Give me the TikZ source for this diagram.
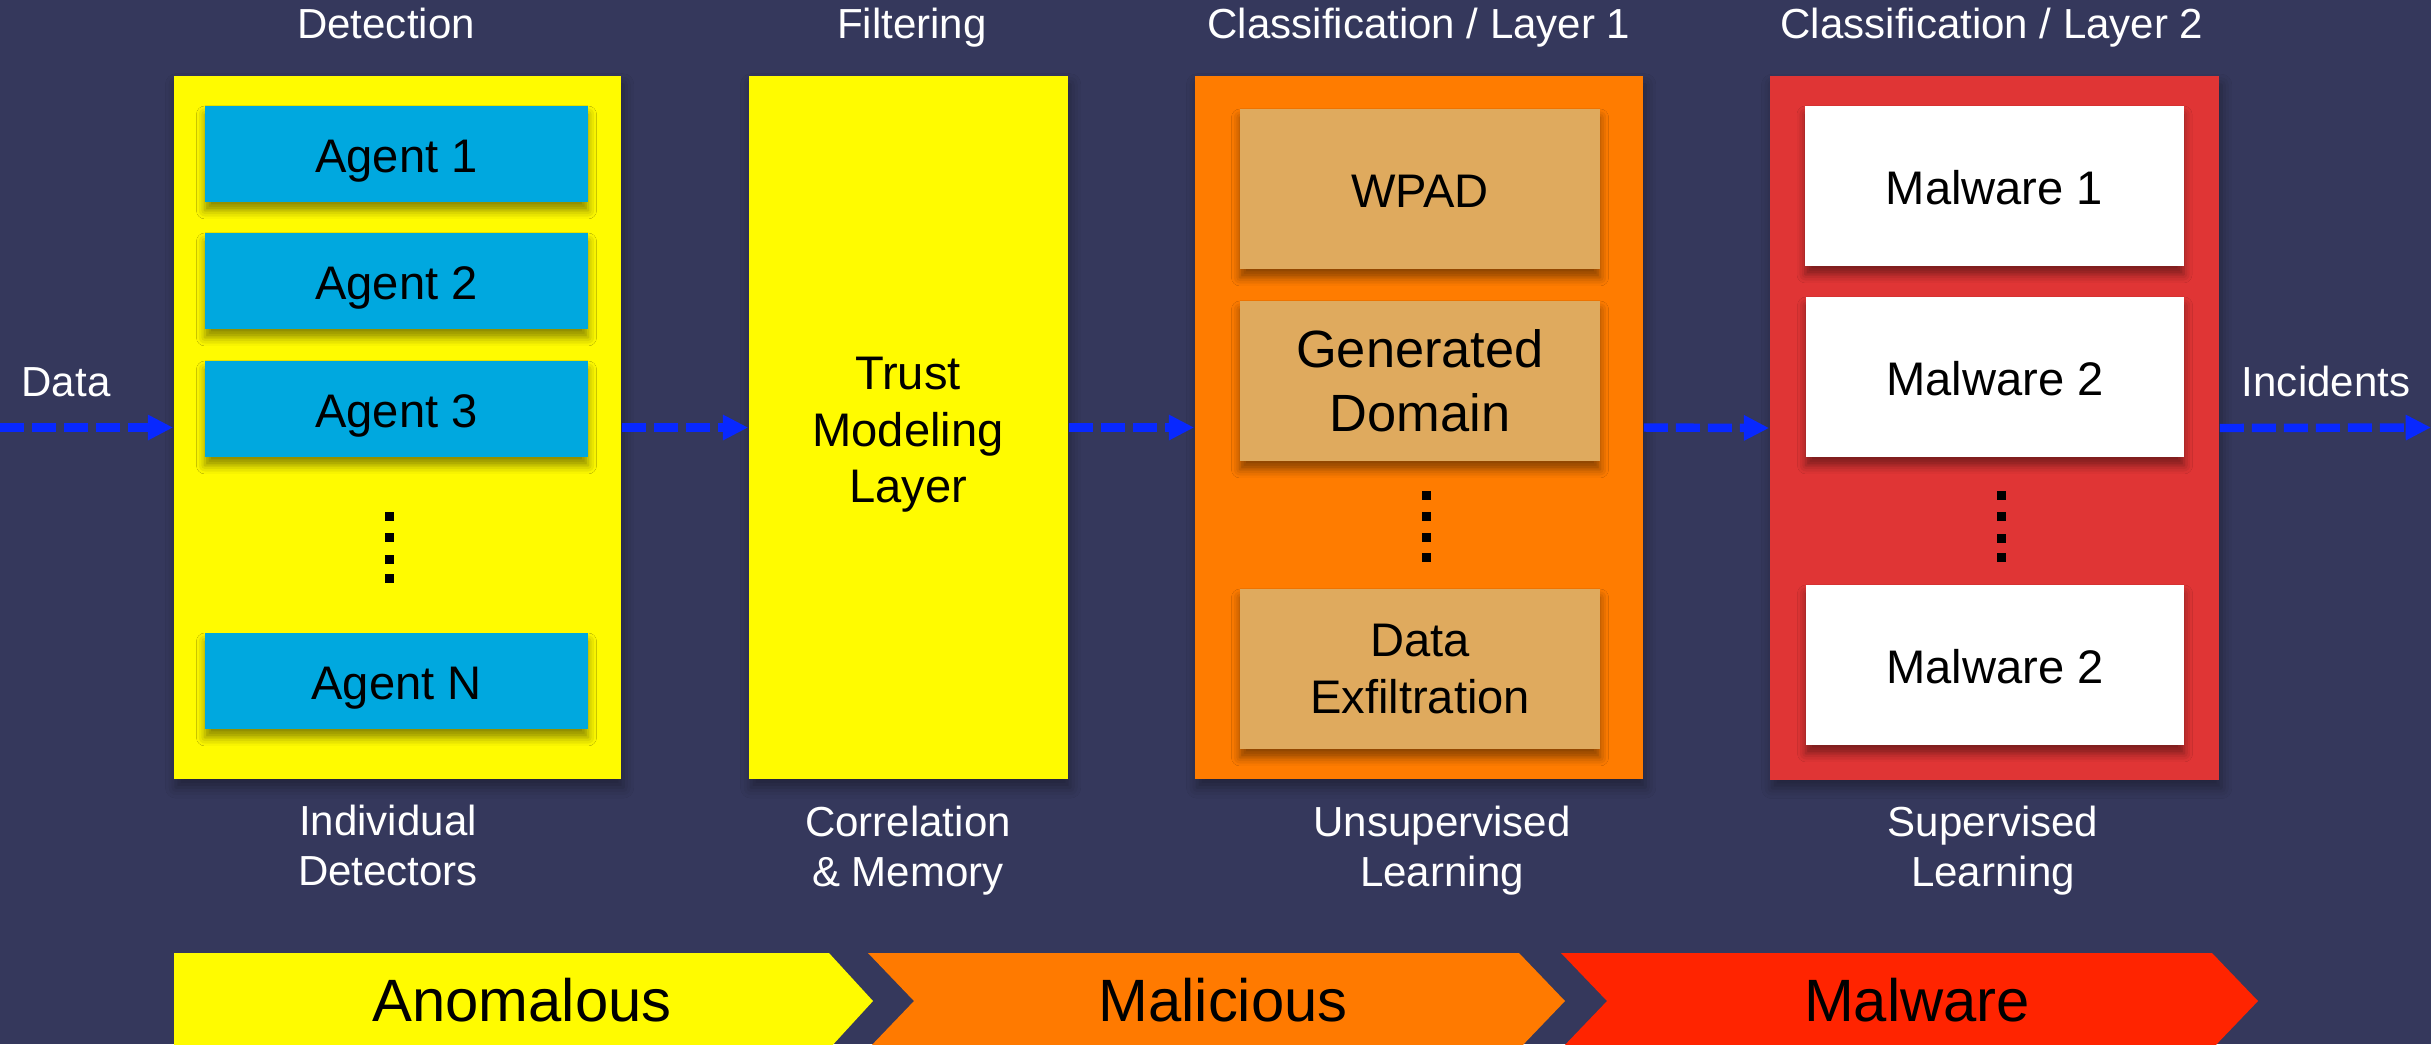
\documentclass[tikz,border=0pt]{standalone}
\usepackage{fontspec}
\setmainfont{Liberation Sans}
\usetikzlibrary{arrows.meta,shadows.blur}

\definecolor{bg}{RGB}{53,56,92}
\definecolor{detyellow}{RGB}{255,251,0}
\definecolor{agentblue}{RGB}{0,168,223}
\definecolor{clsorange}{RGB}{255,124,0}
\definecolor{tan}{RGB}{223,170,94}
\definecolor{clsred}{RGB}{224,53,53}
\definecolor{flowblue}{RGB}{8,40,255}
\definecolor{chyellow}{RGB}{255,251,0}
\definecolor{chorange}{RGB}{255,122,0}
\definecolor{chred}{RGB}{255,36,0}

\newcommand\fsz[2]{\fontsize{#1}{#2}\selectfont}

\begin{document}
\begin{tikzpicture}[x=0.01cm,y=-0.01cm,
  stage/.style={rectangle, inner sep=0pt, minimum height=7.03cm,
    blur shadow={shadow xshift=0.6pt, shadow yshift=-2.4pt,
      shadow blur radius=3pt, shadow opacity=35}},
  item/.style={rectangle, inner sep=0pt, text=black, align=center,
    font=\fsz{13.4pt}{16.1pt},
    blur shadow={shadow xshift=0pt, shadow yshift=-2.4pt,
      shadow blur radius=2.4pt, shadow opacity=45}},
  oneline/.style={text height=10.6pt, text depth=0pt},
  agent/.style={item, oneline, fill=agentblue, minimum width=3.83cm,
    minimum height=0.96cm},
  domainbox/.style={item, fill=tan, minimum width=3.6cm, minimum height=1.6cm},
  malbox/.style={item, oneline, fill=white, minimum width=3.78cm, minimum height=1.6cm},
  lbl/.style={text=white, align=center, inner sep=0pt,
    font=\fsz{11.95pt}{14.23pt}},
  band/.style={text=black, inner sep=0pt, font=\fsz{17pt}{20pt}},
  flow/.style={draw=flowblue, line width=2.4pt,
    dash pattern=on 6.8pt off 2.3pt,
    -{Triangle[length=7.2pt,width=6.8pt]}},
  dotsq/.style={fill=black}
]
% canvas
\fill[bg] (0,0) rectangle (2431,1044);
\useasboundingbox (0,0) rectangle (2431,1044);

% stage containers
\node[stage, fill=detyellow, minimum width=4.47cm] (det) at (397.5,427.5) {};
\node[stage, fill=detyellow, minimum width=3.19cm] (filt) at (908.5,427.5) {};
\node[stage, fill=clsorange, minimum width=4.48cm] (cls1) at (1419,427.5) {};
\node[stage, fill=clsred, minimum width=4.49cm] (cls2) at (1994.5,428) {};

% detection agents
\node[agent] (ag1) at (396.5,154) {Agent 1};
\node[agent] (ag2) at (396.5,281) {Agent 2};
\node[agent] (ag3) at (396.5,409) {Agent 3};
\node[agent] (agN) at (396.5,681) {Agent N};
\foreach \yy in {516,537.5,559,578}
  \fill[dotsq] (384.5,\yy-4.5) rectangle (393.5,\yy+4.5);

% filtering
\node[text=black, align=center, inner sep=0pt, font=\fsz{13.4pt}{16.1pt}]
  (trust) at (908,435) {Trust\\Modeling\\Layer};

% classification layer 1
\node[domainbox, oneline] (wpad) at (1420,189) {WPAD};
\node[domainbox, font=\fsz{14.9pt}{18.1pt}] (gendom) at (1420,381) {Generated\\Domain};
\node[domainbox] (exfil) at (1420,669) {Data\\Exfiltration};
\foreach \yy in {495,516.5,537.5,557.5}
  \fill[dotsq] (1421.5,\yy-4.5) rectangle (1430.5,\yy+4.5);

% classification layer 2
\node[malbox] (mal1) at (1994.5,186) {Malware 1};
\node[malbox] (mal2) at (1995,377) {Malware 2};
\node[malbox] (mal3) at (1995,665) {Malware 2};
\foreach \yy in {495,516.5,538,557.5}
  \fill[dotsq] (1996.5,\yy-4.5) rectangle (2005.5,\yy+4.5);

% stage titles
\node[lbl, anchor=base] (tdet) at (386,38.3) {Detection};
\node[lbl, anchor=base] (tfilt) at (912,38.3) {Filtering};
\node[lbl, anchor=base] (tcls1) at (1419,38.3) {Classification / Layer 1};
\node[lbl, anchor=base] (tcls2) at (1992,38.3) {Classification / Layer 2};

% stage captions
\node[lbl] (cdet) at (388,845.7) {Individual\\Detectors};
\node[lbl] (cfilt) at (908,850.8) {Correlation\\\& Memory};
\node[lbl] (ccls1) at (1442,850.8) {Unsupervised\\Learning};
\node[lbl] (ccls2) at (1993,850.8) {Supervised\\Learning};

% data flow
\coordinate (src) at (0,427.5);
\coordinate (snk) at (2431,427.5);
\node[lbl, anchor=base] (ldata) at (66,396.7) {Data};
\node[lbl, anchor=base] (linc) at (2326,396.7) {Incidents};
\draw[flow] (src) -- (det.west);
\draw[flow] (det.east) -- (filt.west);
\draw[flow] (filt.east) -- (cls1.west);
\draw[flow] (cls1.east) -- (cls2.west);
\draw[flow] (cls2.east) -- (snk);

% verdict bands
\fill[chyellow] (174,953) -- (829,953) -- (873,1001) -- (829,1049) -- (174,1049) -- cycle;
\fill[chorange] (868,953) -- (1519,953) -- (1565,1001) -- (1519,1049) -- (868,1049) -- (914,1001) -- cycle;
\fill[chred] (1561,953) -- (2212,953) -- (2258,1001) -- (2212,1049) -- (1561,1049) -- (1607,1001) -- cycle;
\node[band, anchor=base] (anom) at (522,1021.7) {Anomalous};
\node[band, anchor=base] (malic) at (1223,1021.7) {Malicious};
\node[band, anchor=base] (malw) at (1917,1021.7) {Malware};
\end{tikzpicture}
\end{document}
